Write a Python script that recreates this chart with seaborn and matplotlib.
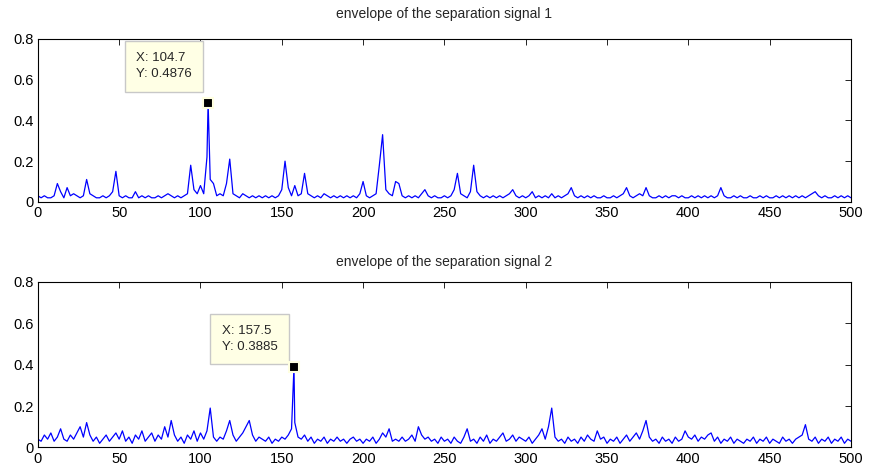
import numpy as np
import pandas as pd
import matplotlib
matplotlib.use('Agg')
import matplotlib.pyplot as plt
import seaborn as sns

# envelope spectra, step 2 Hz, values in hundredths
freq_step = 2
env1 = [3, 2, 3, 2, 2, 3, 9, 5, 2, 7,
        3, 4, 3, 2, 3, 11, 4, 3, 2, 2,
        3, 2, 3, 5, 15, 3, 2, 3, 2, 2,
        5, 2, 3, 2, 3, 2, 2, 3, 2, 3,
        4, 3, 2, 3, 2, 3, 4, 18, 6, 4,
        8, 4, 22, 11, 9, 3, 4, 3, 9, 21,
        4, 3, 2, 4, 3, 2, 3, 2, 3, 2,
        3, 2, 3, 2, 3, 6, 20, 7, 3, 8,
        3, 4, 14, 4, 3, 2, 3, 2, 4, 3,
        2, 3, 2, 3, 2, 3, 2, 3, 2, 4,
        10, 3, 2, 3, 4, 18, 33, 6, 4, 3,
        10, 9, 3, 2, 3, 2, 3, 2, 4, 6,
        3, 2, 3, 2, 2, 3, 2, 3, 6, 14,
        4, 3, 2, 5, 18, 5, 3, 2, 3, 2,
        3, 2, 3, 2, 3, 4, 6, 3, 2, 3,
        2, 3, 5, 2, 3, 2, 3, 2, 4, 2,
        3, 2, 3, 4, 7, 3, 2, 3, 2, 3,
        2, 3, 2, 2, 3, 2, 2, 3, 2, 3,
        4, 7, 3, 2, 3, 4, 3, 7, 3, 2,
        2, 3, 2, 3, 2, 3, 3, 2, 3, 2,
        2, 3, 2, 3, 2, 3, 2, 3, 2, 3,
        7, 3, 2, 2, 3, 2, 3, 2, 2, 3,
        2, 2, 3, 2, 3, 2, 2, 3, 2, 3,
        2, 3, 2, 3, 2, 3, 2, 3, 4, 5,
        3, 2, 3, 2, 2, 3, 2, 3, 2, 3, 2]
env2 = [4, 3, 6, 4, 7, 3, 5, 9, 4, 3,
        6, 4, 7, 10, 5, 12, 6, 3, 5, 2,
        4, 6, 3, 5, 7, 4, 8, 3, 5, 2,
        6, 4, 8, 3, 5, 7, 3, 6, 4, 10,
        5, 13, 6, 3, 5, 2, 6, 4, 8, 3,
        7, 4, 8, 19, 5, 3, 5, 4, 8, 13,
        6, 3, 5, 7, 10, 13, 6, 3, 5, 4,
        3, 5, 2, 4, 3, 5, 4, 6, 9, 12,
        5, 4, 6, 3, 5, 2, 4, 3, 5, 2,
        4, 3, 5, 3, 4, 2, 4, 5, 3, 4,
        2, 4, 3, 5, 2, 4, 7, 5, 9, 3,
        4, 3, 5, 3, 4, 6, 3, 10, 6, 4,
        5, 3, 4, 2, 5, 3, 4, 2, 5, 3,
        2, 5, 9, 3, 4, 2, 5, 3, 6, 2,
        4, 3, 5, 7, 3, 4, 6, 3, 5, 4,
        3, 5, 2, 4, 6, 9, 4, 10, 19, 5,
        3, 4, 2, 5, 3, 4, 2, 5, 3, 6,
        4, 3, 8, 4, 5, 2, 4, 3, 5, 2,
        4, 6, 3, 5, 7, 4, 8, 13, 5, 3,
        4, 2, 5, 3, 4, 2, 5, 3, 4, 8,
        5, 4, 6, 3, 5, 4, 6, 7, 3, 5,
        2, 4, 3, 5, 2, 4, 3, 2, 4, 3,
        5, 2, 4, 3, 5, 2, 4, 3, 2, 5,
        3, 4, 2, 4, 5, 6, 11, 4, 3, 5,
        2, 4, 3, 5, 2, 4, 3, 5, 2, 4, 3]

# data tip points (from the picture)
tip1 = (104.7, 0.4876)
tip2 = (157.5, 0.3885)
titles = ['envelope of the separation signal 1', 'envelope of the separation signal 2']


def make_df(vals, tip):
    f = np.arange(len(vals)) * freq_step
    df = pd.DataFrame({'freq': f, 'amp': np.array(vals) / 100.0})
    df = pd.concat([df, pd.DataFrame({'freq': [tip[0]], 'amp': [tip[1]]})])
    return df.sort_values('freq').reset_index(drop=True)


sns.set_style('white')
plt.rcParams['font.family'] = ['Liberation Sans', 'DejaVu Sans']

fig = plt.figure(figsize=(8.8, 4.75), dpi=100)
ax1 = fig.add_axes([0.043, 0.575, 0.924, 0.343])
ax2 = fig.add_axes([0.043, 0.058, 0.924, 0.349])

panels = [(ax1, env1, tip1, titles[0], 15, 26), (ax2, env2, tip2, titles[1], 11, 20)]
for ax, vals, tip, title, tpad, tip_dy in panels:
    df = make_df(vals, tip)
    sns.lineplot(data=df, x='freq', y='amp', ax=ax, color='blue', lw=0.9,
                 estimator=None, sort=True)
    ax.set_xlim(0, 500)
    ax.set_ylim(0, 0.8)
    ax.set_xticks(np.arange(0, 501, 50))
    ax.set_yticks([0, 0.2, 0.4, 0.6, 0.8])
    ax.set_yticklabels(['0', '0.2', '0.4', '0.6', '0.8'])
    ax.set_xlabel('')
    ax.set_ylabel('')
    ax.set_title(title, fontsize=10, pad=tpad)
    for s in ax.spines.values():
        s.set_visible(True)
        s.set_color('black')
        s.set_linewidth(0.8)
    ax.tick_params(direction='in', length=4, width=0.6, top=True, right=True,
                   labelsize=10.5, colors='black', pad=3)

    # data tip
    ax.plot([tip[0]], [tip[1]], marker='s', ms=7, color='black', mec='#ffffe0', mew=1.5,
            zorder=5)
    ax.annotate('X: %s\nY: %s' % (tip[0], tip[1]), xy=tip, xytext=(-32, tip_dy),
                textcoords='offset points', ha='center', va='center', fontsize=9.5,
                linespacing=1.45, multialignment='left',
                bbox=dict(boxstyle='square,pad=0.85', fc='#ffffe5', ec='#c8c8c8', lw=1))

fig.savefig('out.png', dpi=100)
